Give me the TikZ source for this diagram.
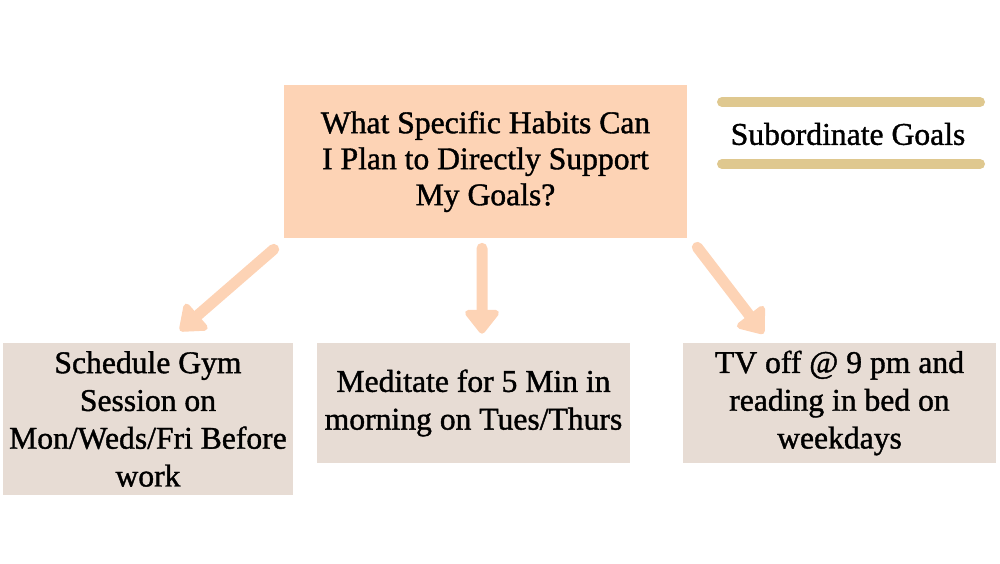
\documentclass[tikz,border=0pt]{standalone}
\usepackage{fontspec}
\setmainfont{Liberation Serif}[BoldFont=Liberation Serif,BoldFeatures={FakeBold=1.2}]
\usetikzlibrary{arrows.meta,calc}
\definecolor{peach}{HTML}{FDD3B5}
\definecolor{stone}{HTML}{E7DCD4}
\definecolor{sand}{HTML}{DFC88F}

\begin{document}
\begin{tikzpicture}[x=0.02cm,y=-0.02cm,
    question/.style={fill=peach,minimum width=8.06cm,minimum height=3.06cm,
        align=center,font=\fontsize{18}{20.5}\selectfont\bfseries,
        execute at begin node={\rule{0pt}{20pt}}},
    habit/.style={fill=stone,minimum height=2.4cm,align=center,
        font=\fontsize{18}{21.5}\selectfont\bfseries,
        execute at begin node={\rule{0pt}{20pt}}},
    habitarrow/.style={peach,line width=0.22cm,line cap=round,
        -{Triangle[length=0.52cm,width=0.78cm,round]}},
    legendbar/.style={sand,line width=0.2cm,line cap=round}]
    \useasboundingbox (0,0) rectangle (1000,564);
    % question box
    \node[question] (top) at (485.5,161.5)
        {What Specific Habits Can\\I Plan to Directly Support\\My Goals?};
    % legend
    \node[font=\fontsize{18}{20}\selectfont\bfseries] (legend) at (848,134) {Subordinate Goals};
    \draw[legendbar] (722,102) -- (980,102);
    \draw[legendbar] (722,164) -- (980,164);
    % habits
    \node[habit,minimum width=5.76cm,minimum height=3.04cm] (gym) at (148,419)
        {Schedule Gym\\Session on\\Mon/Weds/Fri Before\\work};
    \node[habit,minimum width=6.26cm] (meditate) at (473.5,403)
        {Meditate for 5 Min in\\morning on Tues/Thurs};
    \node[habit,minimum width=6.26cm] (tv) at (839.5,403)
        {TV off @ 9 pm and\\reading in bed on\\weekdays};
    % arrows
    \coordinate (gymtip) at ($(gym.north)+(32,-12)$);
    \coordinate (meditatetip) at ($(meditate.north)+(8.5,-9)$);
    \coordinate (tvtip) at ($(tv.north)+(-76,-9)$);
    \draw[habitarrow] ($(top.south west)+(-10,11)$) -- (gymtip);
    \draw[habitarrow] ($(top.south)+(-3.5,10)$) -- (meditatetip);
    \draw[habitarrow] ($(top.south east)+(10,9)$) -- (tvtip);
\end{tikzpicture}
\end{document}
